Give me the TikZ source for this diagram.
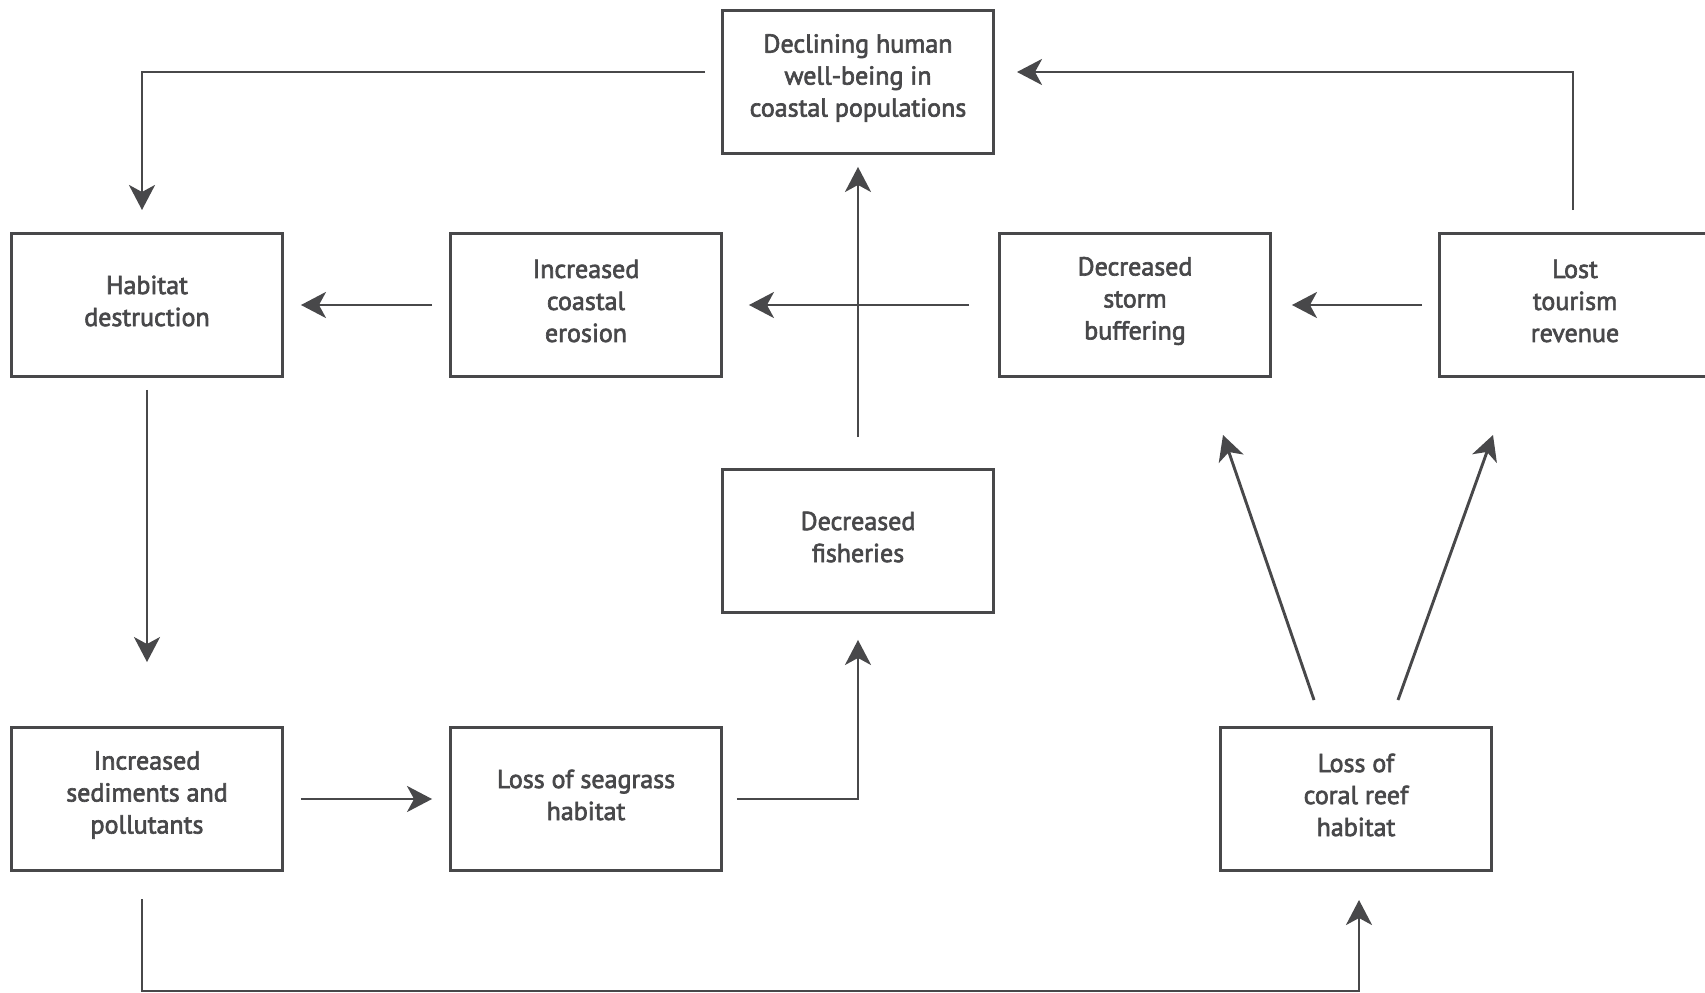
\documentclass[tikz,border=0pt]{standalone}
\usepackage{fontspec}
\setmainfont{PT Sans}
\newfontfamily\boxfont{PT Sans}[FakeBold=2.5]
\usetikzlibrary{arrows.meta}
\definecolor{ink}{HTML}{48484A}
\begin{document}
\begin{tikzpicture}[x=1pt,y=-1pt,
  box/.style={draw=ink, line width=2.9pt, minimum width=271pt, minimum height=143pt,
    inner sep=0pt},
  txt/.style={align=center, text=ink, inner sep=0pt, yshift=4pt,
    font=\boxfont\fontsize{26}{32}\selectfont},
  conn/.style={draw=ink, line width=2.9pt, -{Stealth[length=25pt,width=26pt,inset=7pt]}}]
\useasboundingbox (0,0) rectangle (1705,993);
% nodes
\node[box, label={[txt]center:Declining human\\well-being in\\coastal populations}] (decl) at (858,82) {};
\node[box, label={[txt]center:Habitat\\destruction}] (hab) at (147,305) {};
\node[box, label={[txt]center:Increased\\coastal\\erosion}] (ero) at (586,305) {};
\node[box, label={[txt]center:Decreased\\storm\\buffering}] (storm) at (1135,305) {};
\node[box, label={[txt]center:Lost\\tourism\\revenue}] (lost) at (1575,305) {};
\node[box, label={[txt]center:Decreased\\fisheries}] (fish) at (858,541) {};
\node[box, label={[txt]center:Increased\\sediments and\\pollutants}] (sed) at (147,799) {};
\node[box, label={[txt]center:Loss of seagrass\\habitat}] (sea) at (586,799) {};
\node[box, label={[txt]center:Loss of\\coral reef\\habitat}] (coral) at (1356,799) {};
% corner / free-end coordinates
\coordinate (dl0) at (705,72);
\coordinate (dl1) at (142,72);
\coordinate (dl2) at (142,210);
\coordinate (tr0) at (1573,210);
\coordinate (tr1) at (1573,72);
\coordinate (tr2) at (1017,72);
\coordinate (sf1) at (858,799);
\coordinate (sc0) at (142,899);
\coordinate (sc1) at (142,991);
\coordinate (sc2) at (1359,991);
\coordinate (sc3) at (1359,900);
\coordinate (cs0) at (1314,700);
\coordinate (cs1) at (1223,435);
\coordinate (cl0) at (1398,700);
\coordinate (cl1) at (1493,435);
% connectors
\draw[conn] (dl0) -- (dl1) -- (dl2);
\draw[conn] (tr0) -- (tr1) -- (tr2);
\draw[conn, shorten <=17pt, shorten >=17pt] (ero.west) -- (hab.east);
\draw[conn, shorten <=29pt, shorten >=26pt] (storm.west) -- (ero.east);
\draw[conn, shorten <=16pt, shorten >=20pt] (lost.west) -- (storm.east);
\draw[conn, shorten <=31pt, shorten >=12pt] (fish.north) -- (decl.south);
\draw[conn, shorten <=12pt, shorten >=64pt] (hab.south) -- (sed.north);
\draw[conn, shorten <=17pt, shorten >=17pt] (sed.east) -- (sea.west);
\draw[conn, shorten <=14pt, shorten >=26pt] (sea.east) -- (sf1) -- (fish.south);
\draw[conn] (sc0) -- (sc1) -- (sc2) -- (sc3);
\draw[conn] (cs0) -- (cs1);
\draw[conn] (cl0) -- (cl1);
\end{tikzpicture}
\end{document}
